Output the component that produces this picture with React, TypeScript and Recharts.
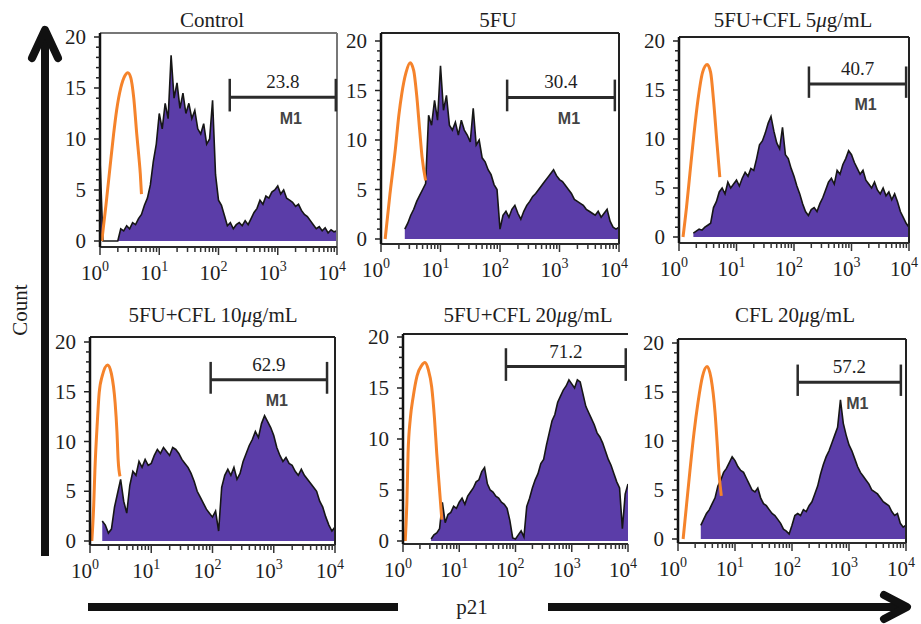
import React from "react"
import { Area, ComposedChart, Label, Line, ReferenceLine, XAxis, YAxis } from "recharts"

// log10 of p21 fluorescence, the x position of every histogram bin
const logIntensity = [
  0, 0.05, 0.1, 0.15, 0.2, 0.25, 0.3, 0.35, 0.4, 0.45,
  0.5, 0.55, 0.6, 0.65, 0.7, 0.75, 0.8, 0.85, 0.9, 0.95,
  1, 1.05, 1.1, 1.15, 1.2, 1.25, 1.3, 1.35, 1.4, 1.45,
  1.5, 1.55, 1.6, 1.65, 1.7, 1.75, 1.8, 1.85, 1.9, 1.95,
  2, 2.05, 2.1, 2.15, 2.2, 2.25, 2.3, 2.35, 2.4, 2.45,
  2.5, 2.55, 2.6, 2.65, 2.7, 2.75, 2.8, 2.85, 2.9, 2.95,
  3, 3.05, 3.1, 3.15, 3.2, 3.25, 3.3, 3.35, 3.4, 3.45,
  3.5, 3.55, 3.6, 3.65, 3.7, 3.75, 3.8, 3.85, 3.9, 3.95,
  4,
]

const controlCounts = [
  8, 0, 0, 0, 0, 0, 0, 1.2, 1.0, 1.5,
  1.2, 1.8, 1.6, 2.2, 2.6, 3.5, 4.2, 5.5, 7.8, 9.5,
  12.5, 11.0, 13.5, 12.0, 18.2, 14.0, 15.5, 13.0, 14.5, 12.5,
  13.5, 12.0, 12.8, 11.0, 10.5, 11.5, 9.5, 10.0, 13.8, 6.5,
  4.0, 3.5, 2.5, 1.5, 1.8, 1.2, 1.6, 1.8, 1.5, 2.0,
  1.6, 2.2, 2.8, 3.2, 4.0, 3.6, 4.4, 4.2, 4.8, 5.0,
  5.4, 4.6, 5.0, 4.2, 4.0, 3.8, 3.4, 3.6, 3.0, 2.6,
  2.4, 2.0, 1.6, 1.2, 1.4, 1.0, 1.3, 0.8, 1.1, 0.9,
  1.0,
]

const fuCounts = [
  null, null, null, null, null, null, null, null, 1.0, 1.6,
  2.4, 3.0, 3.8, 4.4, 5.0, 5.6, 12.5, 11.5, 14.0, 12.0,
  17.5, 13.0, 14.5, 11.5, 11.0, 11.8, 10.5, 12.0, 11.0, 10.5,
  9.8, 13.2, 9.5, 10.0, 8.2, 7.8, 7.0, 6.5, 5.5, 5.0,
  1.0, 2.4, 2.8, 2.2, 3.0, 3.4, 2.6, 2.0, 2.8, 3.4,
  3.8, 4.3, 4.6, 5.0, 5.4, 5.8, 6.2, 6.6, 7.0, 6.4,
  6.0, 5.8, 5.4, 5.0, 4.6, 4.0, 3.8, 3.6, 3.4, 3.0,
  2.8, 2.6, 2.4, 2.8, 2.2, 2.6, 3.0, 1.8, 1.2, 1.0,
  1.2,
]

const cfl5Counts = [
  null, null, null, null, null, 0.4, 0.6, 0.8, 0.7, 1.0,
  1.2, 1.4, 3.0, 3.6, 4.6, 5.0, 4.4, 5.6, 5.0, 5.4,
  5.8, 5.2, 6.0, 6.6, 6.2, 7.0, 6.8, 8.0, 9.4, 9.8,
  10.6, 11.6, 12.3, 10.8, 9.6, 9.0, 11.2, 8.4, 8.0, 7.0,
  6.2, 5.2, 4.4, 3.4, 2.6, 2.2, 2.8, 3.0, 2.6, 3.4,
  4.0, 4.8, 5.6, 6.0, 5.4, 6.8, 6.4, 7.4, 8.0, 8.8,
  8.4, 7.6, 7.0, 6.4, 6.8, 5.8, 5.4, 5.0, 5.6, 4.8,
  4.4, 5.0, 4.2, 4.6, 3.8, 4.4, 3.6, 2.6, 2.0, 1.4,
  1.0,
]

const cfl10Counts = [
  null, null, null, null, 2.0, 1.6, 0.8, 1.2, 3.4, 4.8,
  6.2, 4.0, 2.8, 5.6, 7.0, 6.6, 8.0, 7.4, 8.2, 7.6,
  7.8, 8.6, 9.2, 8.8, 9.4, 9.0, 8.6, 9.4, 9.2, 8.8,
  8.2, 7.8, 7.4, 6.8, 6.0, 5.0, 4.4, 3.8, 3.2, 2.8,
  2.4, 3.0, 1.0, 5.4, 6.6, 7.2, 6.6, 7.4, 6.2, 6.8,
  8.0, 8.8, 9.6, 10.2, 11.0, 10.4, 11.8, 12.6, 12.0, 11.4,
  10.6, 9.4, 8.6, 8.0, 8.4, 7.8, 7.6, 7.0, 6.6, 7.2,
  6.6, 6.2, 5.8, 5.4, 5.0, 4.0, 3.4, 2.4, 1.6, 1.0,
  1.4,
]

const cfl20ComboCounts = [
  null, null, null, null, null, null, null, null, null, null,
  0.2, 0.6, 0.8, 1.2, 3.8, 1.8, 2.6, 2.8, 3.4, 3.2,
  3.8, 4.2, 3.6, 4.4, 4.8, 5.2, 5.8, 6.0, 6.8, 7.2,
  5.6, 5.0, 4.8, 4.4, 4.2, 3.8, 3.6, 3.2, 2.0, 0.3,
  0.2, 0.6, 1.0, 0.4, 3.4, 4.2, 5.2, 6.0, 6.6, 7.6,
  8.0, 9.4, 10.6, 11.8, 12.4, 13.6, 14.2, 14.8, 15.2, 15.8,
  15.4, 15.0, 15.8, 15.6, 14.4, 13.2, 12.6, 12.0, 11.4, 10.6,
  10.2, 9.6, 8.8, 8.0, 7.4, 6.6, 5.8, 5.2, 1.2, 4.6,
  5.6,
]

const cfl20Counts = [
  null, null, null, null, null, null, null, null, 1.4, 2.0,
  2.6, 3.0, 3.6, 4.2, 5.4, 6.0, 6.8, 7.2, 7.8, 8.4,
  8.0, 7.4, 7.0, 6.8, 6.2, 5.6, 5.0, 4.8, 5.2, 4.2,
  3.6, 3.4, 3.0, 2.6, 2.4, 2.0, 1.6, 1.0, 0.8, 0.5,
  1.4, 2.4, 2.6, 2.4, 3.0, 2.8, 3.4, 3.8, 4.6, 5.4,
  6.6, 7.6, 8.4, 9.0, 9.8, 10.6, 11.4, 14.2, 11.8, 10.6,
  9.6, 9.0, 8.2, 7.4, 6.8, 6.4, 6.0, 5.6, 5.0, 4.8,
  4.6, 4.2, 3.8, 3.6, 3.4, 2.8, 2.4, 2.6, 1.6, 1.2,
  1.4,
]

// isotype control (orange) curves
const controlIsoX = [0.03, 0.1, 0.17, 0.23, 0.28, 0.35, 0.42, 0.47, 0.52, 0.57, 0.62, 0.66, 0.68, 0.7]
const controlIsoY = [0, 3.5, 7.3, 10.5, 12.8, 15.0, 16.2, 16.5, 16.0, 14.0, 10.5, 8.0, 6.6, 4.6]
const fuIsoX = [0.07, 0.15, 0.24, 0.3, 0.35, 0.42, 0.49, 0.55, 0.6, 0.65, 0.69, 0.75]
const fuIsoY = [0, 4.5, 9.0, 12.5, 14.7, 16.8, 17.8, 17.0, 14.5, 11.0, 8.3, 5.9]
const cfl5IsoX = [0.07, 0.13, 0.19, 0.26, 0.33, 0.41, 0.49, 0.55, 0.6, 0.66, 0.71]
const cfl5IsoY = [0, 3.0, 6.5, 10.5, 14.0, 16.8, 17.6, 16.8, 14.0, 9.6, 6.1]
const cfl10IsoX = [0.03, 0.06, 0.08, 0.12, 0.15, 0.2, 0.29, 0.35, 0.41, 0.44, 0.46, 0.49]
const cfl10IsoY = [0, 3.5, 7.1, 12.0, 14.9, 16.6, 17.7, 16.8, 13.9, 11.0, 8.1, 6.5]
const cfl20ComboIsoX = [0.04, 0.07, 0.09, 0.13, 0.18, 0.25, 0.33, 0.39, 0.45, 0.51, 0.56, 0.6, 0.65, 0.69]
const cfl20ComboIsoY = [0, 4.0, 8.6, 12.0, 14.1, 16.2, 17.2, 17.5, 16.8, 15.1, 12.0, 8.6, 5.0, 2.1]
const cfl20IsoX = [0.09, 0.15, 0.21, 0.28, 0.35, 0.43, 0.51, 0.58, 0.65, 0.69, 0.72, 0.76]
const cfl20IsoY = [0, 3.5, 7.0, 10.8, 13.9, 16.6, 17.6, 16.4, 12.9, 9.5, 6.7, 4.4]

const titles = ["Control", "5FU", "5FU+CFL 5μg/mL", "5FU+CFL 10μg/mL", "5FU+CFL 20μg/mL", "CFL 20μg/mL"]

// M1 marker: start / end on the log axis, height in counts, percentage
const gateStart = [2.19, 2.12, 2.26, 1.97, 1.83, 2.1]
const gateEnd = [3.98, 3.93, 3.95, 3.87, 3.96, 3.91]
const gateLevel = [14.1, 14.3, 15.6, 16.2, 17.1, 16.0]
const gatePct = ["23.8", "30.4", "40.7", "62.9", "71.2", "57.2"]
const gateTag = ["M1", "M1", "M1", "M1", "", "M1"]

const decadeTicks = [0, 1, 2, 3, 4]
const countTicks = [0, 1, 2, 3, 4, 5, 6, 7, 8, 9, 10, 11, 12, 13, 14, 15, 16, 17, 18, 19, 20]
const xTicks = decadeTicks.flatMap((d) =>
  d < 4 ? [d, ...[2, 3, 4, 5, 6, 7, 8, 9].map((k) => d + Math.log10(k))] : [d]
)

const histograms = [controlCounts, fuCounts, cfl5Counts, cfl10Counts, cfl20ComboCounts, cfl20Counts]
const isoXs = [controlIsoX, fuIsoX, cfl5IsoX, cfl10IsoX, cfl20ComboIsoX, cfl20IsoX]
const isoYs = [controlIsoY, fuIsoY, cfl5IsoY, cfl10IsoY, cfl20ComboIsoY, cfl20IsoY]

function buildRows(counts: (number | null)[], isoX: number[], isoY: number[]) {
  const rows: { x: number; count?: number | null; iso?: number }[] = logIntensity.map((x, i) => ({ x, count: counts[i] }))
  isoX.forEach((x, i) => rows.push({ x, iso: isoY[i] }))
  return rows.sort((a, b) => a.x - b.x)
}

const rows = histograms.map((h, i) => buildRows(h, isoXs[i], isoYs[i]))

// pixel frame of each panel
const layout = [
  { left: 100, right: 337, frameTop: 33, y20: 37, y0: 241, axisY: 247, titleX: 212, titleY: 27, frame: "#777", rightEdge: true },
  { left: 381, right: 619, frameTop: 33, y20: 41, y0: 239, axisY: 244, titleX: 498, titleY: 27, frame: "#222", rightEdge: true },
  { left: 679, right: 909, frameTop: 37, y20: 41, y0: 237, axisY: 243, titleX: 793, titleY: 27, frame: "#222", rightEdge: true },
  { left: 90, right: 335, frameTop: 337, y20: 342, y0: 541, axisY: 545, titleX: 213, titleY: 322, frame: "#222", rightEdge: true },
  { left: 403, right: 628, frameTop: 334, y20: 337, y0: 541, axisY: 544, titleX: 528, titleY: 322, frame: "#222", rightEdge: false },
  { left: 678, right: 906, frameTop: 339, y20: 343, y0: 539, axisY: 543, titleX: 795, titleY: 322, frame: "#222", rightEdge: true },
]

const serif = "'Liberation Serif', 'DejaVu Serif', serif"
const ink = "#1e1e1e"

function XTick(props: any) {
  const { x, y, payload } = props
  const v = payload.value
  const major = Math.abs(v - Math.round(v)) < 1e-6
  return (
    <g>
      <line x1={x} x2={x} y1={y} y2={y + (major ? 8 : 5)} stroke="#333" strokeWidth={1.5} />
      {major && (
        <text x={x - 5} y={y + 33} textAnchor="middle" fontSize={21} fontFamily={serif} fill={ink}>
          10
          <tspan dy={-9} fontSize={14}>
            {Math.round(v)}
          </tspan>
        </text>
      )}
    </g>
  )
}

function YTick(props: any) {
  const { x, y, payload } = props
  const v = payload.value
  const major = v % 5 === 0
  return (
    <g>
      <line x1={x - (major ? 6 : 4)} x2={x} y1={y} y2={y} stroke="#222" strokeWidth={1.5} />
      {major && (
        <text x={x - 14} y={y + 7} textAnchor="end" fontSize={21} fontFamily={serif} fill={ink}>
          {v}
        </text>
      )}
    </g>
  )
}

function Panel({ idx }: { idx: number }) {
  const p = layout[idx]
  const ppu = (p.y0 - p.y20) / 20
  const yMin = -(p.axisY - p.y0) / ppu
  const yMax = 20 + (p.y20 - p.frameTop) / ppu
  const ML = 50
  const MT = 12
  const MB = 50
  const MR = 22
  const w = p.right - p.left + ML + MR
  const h = p.axisY - p.frameTop + MT + MB
  const lvl = gateLevel[idx]
  return (
    <div style={{ position: "absolute", left: p.left - ML, top: p.frameTop - MT }}>
      <ComposedChart width={w} height={h} data={rows[idx]} margin={{ top: MT, right: MR, bottom: 0, left: 0 }}>
        <XAxis
          dataKey="x"
          type="number"
          domain={[0, 4]}
          ticks={xTicks}
          interval={0}
          tickSize={0}
          tickMargin={0}
          tickLine={false}
          tick={(t: any) => <XTick {...t} />}
          axisLine={{ stroke: "#2a2a2a", strokeWidth: 2 }}
          height={MB}
          allowDataOverflow
        />
        <YAxis
          type="number"
          domain={[yMin, yMax]}
          ticks={countTicks}
          interval={0}
          tickSize={0}
          tickMargin={0}
          tickLine={false}
          tick={(t: any) => <YTick {...t} />}
          axisLine={{ stroke: "#111", strokeWidth: 2.5 }}
          width={ML}
          allowDataOverflow
        />
        <ReferenceLine y={yMax} stroke={p.frame} strokeWidth={2} />
        {p.rightEdge && <ReferenceLine x={4} stroke={p.frame} strokeWidth={2} />}
        <Area
          dataKey="count"
          type="linear"
          baseValue={0}
          fill="#5b3da8"
          fillOpacity={1}
          stroke="#161616"
          strokeWidth={1.6}
          connectNulls
          dot={false}
          activeDot={false}
          isAnimationActive={false}
        />
        <Line
          dataKey="iso"
          type="monotone"
          stroke="#f5832b"
          strokeWidth={3}
          connectNulls
          dot={false}
          activeDot={false}
          isAnimationActive={false}
        />
        <ReferenceLine
          segment={[
            { x: gateStart[idx], y: lvl },
            { x: gateEnd[idx], y: lvl },
          ]}
          stroke="#2b2b2b"
          strokeWidth={3}
        >
          <Label value={gatePct[idx]} position="top" offset={9} fontSize={19} fontFamily={serif} fill={ink} />
          {gateTag[idx] && (
            <Label
              value={gateTag[idx]}
              position="bottom"
              offset={15}
              dx={8}
              fontSize={16}
              fontWeight="bold"
              fontFamily="'Liberation Sans', Arial, sans-serif"
              fill="#444"
            />
          )}
        </ReferenceLine>
        <ReferenceLine
          segment={[
            { x: gateStart[idx], y: lvl - 1.4 },
            { x: gateStart[idx], y: lvl + 1.8 },
          ]}
          stroke="#2b2b2b"
          strokeWidth={2.5}
        />
        <ReferenceLine
          segment={[
            { x: gateEnd[idx], y: lvl - 1.4 },
            { x: gateEnd[idx], y: lvl + 1.8 },
          ]}
          stroke="#2b2b2b"
          strokeWidth={2.5}
        />
      </ComposedChart>
    </div>
  )
}

function Title({ text, x, y }: { text: string; x: number; y: number }) {
  const parts = text.split("μ")
  return (
    <text x={x} y={y} textAnchor="middle" fontSize={21} fontFamily={serif} fill={ink}>
      {parts.length > 1 ? (
        <>
          {parts[0]}
          <tspan fontStyle="italic">μ</tspan>
          {parts[1]}
        </>
      ) : (
        text
      )}
    </text>
  )
}

export default function App() {
  return (
    <div style={{ position: "absolute", left: 0, top: 0, width: 921, height: 624, background: "#fff", overflow: "hidden" }}>
      {layout.map((_, i) => (
        <Panel key={i} idx={i} />
      ))}
      <svg width={921} height={624} style={{ position: "absolute", left: 0, top: 0, pointerEvents: "none" }}>
        {layout.map((p, i) => (
          <Title key={i} text={titles[i]} x={p.titleX} y={p.titleY} />
        ))}
        <rect x={41} y={36} width={8} height={520} fill="#111" />
        <polyline points="32,58 45,30 58,58" fill="none" stroke="#111" strokeWidth={8} strokeLinecap="round" strokeLinejoin="round" />
        <text x={27} y={310} transform="rotate(-90 27 310)" textAnchor="middle" fontSize={21} fontFamily={serif} fill={ink}>
          Count
        </text>
        <rect x={88} y={603} width={310} height={8} fill="#111" />
        <rect x={548} y={603} width={357} height={8} fill="#111" />
        <polyline points="884,595 907,607 884,619" fill="none" stroke="#111" strokeWidth={8} strokeLinecap="round" strokeLinejoin="round" />
        <text x={472} y={614} textAnchor="middle" fontSize={21} fontFamily={serif} fill={ink}>
          p21
        </text>
      </svg>
    </div>
  )
}
